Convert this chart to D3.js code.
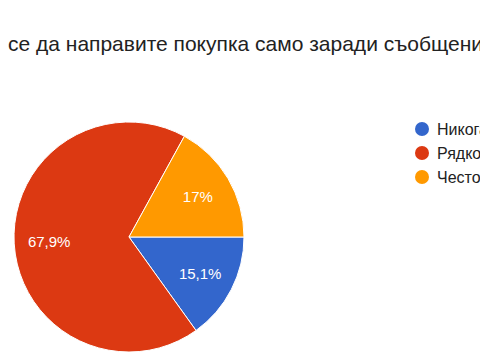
<!DOCTYPE html>
<html><head><meta charset="utf-8">
<script src="https://cdn.jsdelivr.net/npm/d3@7"></script>
<style>html,body{margin:0;padding:0;background:#fff;overflow:hidden}</style>
</head><body>
<svg id="c" width="480" height="360"></svg>
<script>
const categories = ["Никога", "Рядко", "Често"];
const values = [15.1, 67.9, 17];
const labels = ["15,1%", "67,9%", "17%"];
const colors = ["#3366cc", "#dc3912", "#ff9900"];
const title = "се да направите покупка само заради съобщението";

const svg = d3.select("#c");
const font = "'Liberation Sans', Arial, sans-serif";

svg.append("text").attr("x", 8).attr("y", 51)
  .attr("font-family", font).attr("font-size", 21).attr("fill", "#222")
  .text(title);

const cx = 129, cy = 237, r = 115;
const pie = d3.pie().sort(null).value(d => d)
  .startAngle(Math.PI / 2).endAngle(Math.PI / 2 + 2 * Math.PI);
const arcs = pie(values);
const arc = d3.arc().innerRadius(0).outerRadius(r);
const labelArc = d3.arc().innerRadius(80).outerRadius(80);
const g = svg.append("g").attr("transform", `translate(${cx},${cy})`);
g.selectAll("path").data(arcs).join("path")
  .attr("d", arc).attr("fill", (d, i) => colors[i])
  .attr("stroke", "#fff").attr("stroke-width", 1);
g.selectAll("text").data(arcs).join("text")
  .attr("transform", d => `translate(${labelArc.centroid(d)})`)
  .attr("text-anchor", "middle").attr("dy", "0.36em")
  .attr("font-family", font).attr("font-size", 15).attr("fill", "#fff")
  .text((d, i) => labels[i]);

const y = d3.scaleBand().domain(categories).range([117, 189]);
const lg = svg.append("g");
categories.forEach((c, i) => {
  const yy = y(c) + y.bandwidth() / 2;
  lg.append("circle").attr("cx", 422).attr("cy", yy).attr("r", 7).attr("fill", colors[i]);
  lg.append("text").attr("x", 437).attr("y", yy).attr("dy", "0.36em")
    .attr("font-family", font).attr("font-size", 16).attr("fill", "#222").text(c);
});
</script>
</body></html>
